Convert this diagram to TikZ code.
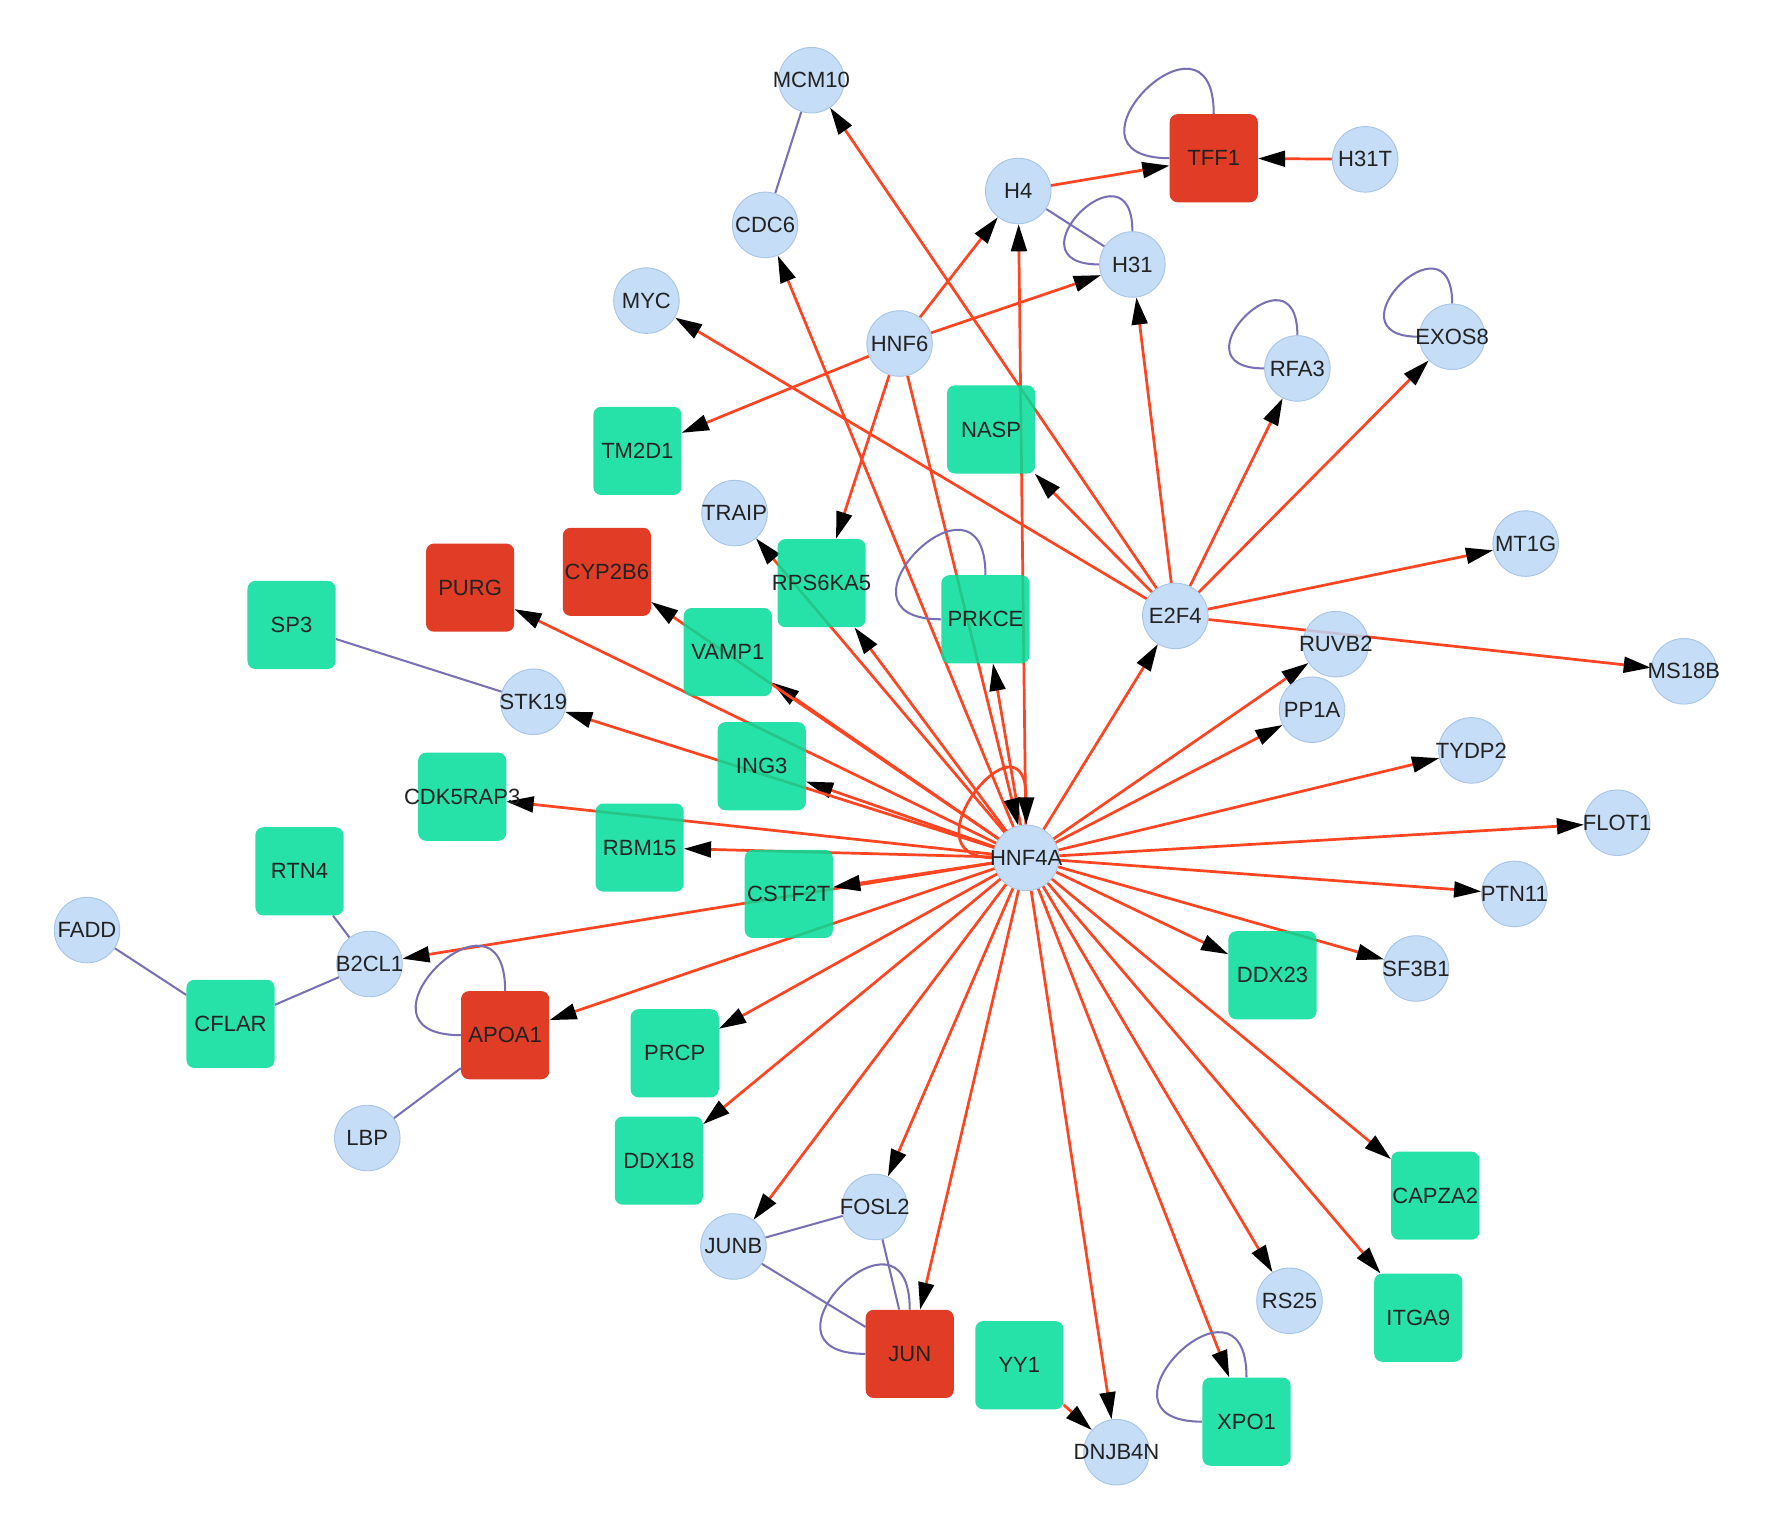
\documentclass[tikz,border=0pt]{standalone}
\usepackage{fontspec}
\setmainfont{Liberation Sans}
\usetikzlibrary{arrows.meta,backgrounds}
\definecolor{protblue}{HTML}{BCD8F6}
\definecolor{protline}{HTML}{A8C4E6}
\definecolor{genegreen}{HTML}{00DD9B}
\definecolor{hubred}{HTML}{DB1A00}
\definecolor{actred}{HTML}{FF4422}
\definecolor{interpurple}{HTML}{7870B4}
\definecolor{txtgray}{HTML}{222222}

\begin{document}
\begin{tikzpicture}[x=1pt,y=-1pt,
  every node/.style={font=\fontsize{19.5}{22}\selectfont, text=txtgray},
  prot/.style={circle, fill=protblue, draw=protline, line width=0.8pt, minimum size=58pt, inner sep=0pt, fill opacity=0.85},
  gene/.style={rectangle, rounded corners=7pt, fill=genegreen, minimum size=78pt, inner sep=0pt, fill opacity=0.85},
  hub/.style={gene, fill=hubred},
  act/.style={draw=actred, line width=2.4pt, -{Triangle[length=24pt,width=14pt,color=black]}},
  inter/.style={draw=interpurple, line width=1.8pt}]
\useasboundingbox (0,0) rectangle (1568,1351);

% proteins
\node[prot, label=center:MCM10] (MCM10) at (718,71) {};
\node[prot, label=center:CDC6] (CDC6) at (677,199) {};
\node[prot, label=center:MYC] (MYC) at (572,266) {};
\node[prot, label=center:H4] (H4) at (901,169) {};
\node[prot, label=center:H31T] (H31T) at (1208,141) {};
\node[prot, label=center:H31] (H31) at (1002,234) {};
\node[prot, label=center:HNF6] (HNF6) at (796,304) {};
\node[prot, label=center:RFA3] (RFA3) at (1148,326) {};
\node[prot, label=center:EXOS8] (EXOS8) at (1285,298) {};
\node[prot, label=center:TRAIP] (TRAIP) at (650,454) {};
\node[prot, label=center:MT1G] (MT1G) at (1350,481) {};
\node[prot, label=center:E2F4] (E2F4) at (1040,545) {};
\node[prot, label=center:RUVB2] (RUVB2) at (1182,570) {};
\node[prot, label=center:MS18B] (MS18B) at (1490,594) {};
\node[prot, label=center:STK19] (STK19) at (472,621) {};
\node[prot, label=center:PP1A] (PP1A) at (1161,628) {};
\node[prot, label=center:TYDP2] (TYDP2) at (1302,664) {};
\node[prot, label=center:HNF4A] (HNF4A) at (908,759) {};
\node[prot, label=center:FLOT1] (FLOT1) at (1431,728) {};
\node[prot, label=center:PTN11] (PTN11) at (1340,791) {};
\node[prot, label=center:FADD] (FADD) at (77,823) {};
\node[prot, label=center:B2CL1] (B2CL1) at (327,853) {};
\node[prot, label=center:SF3B1] (SF3B1) at (1253,857) {};
\node[prot, label=center:LBP] (LBP) at (325,1007) {};
\node[prot, label=center:FOSL2] (FOSL2) at (774,1068) {};
\node[prot, label=center:JUNB] (JUNB) at (649,1103) {};
\node[prot, label=center:RS25] (RS25) at (1141,1151) {};
\node[prot, label=center:DNJB4N] (DNJB4N) at (988,1285) {};

% genes
\node[gene, label=center:TM2D1] (TM2D1) at (564,399) {};
\node[gene, label=center:NASP] (NASP) at (877,380) {};
\node[gene, label=center:RPS6KA5] (RPS6KA5) at (727,516) {};
\node[gene, label=center:PRKCE] (PRKCE) at (872,548) {};
\node[gene, label=center:SP3] (SP3) at (258,553) {};
\node[gene, label=center:VAMP1] (VAMP1) at (644,577) {};
\node[gene, label=center:ING3] (ING3) at (674,678) {};
\node[gene, label=center:CDK5RAP3] (CDK5RAP3) at (409,705) {};
\node[gene, label=center:RBM15] (RBM15) at (566,750) {};
\node[gene, label=center:RTN4] (RTN4) at (265,771) {};
\node[gene, label=center:CSTF2T] (CSTF2T) at (698,791) {};
\node[gene, label=center:DDX23] (DDX23) at (1126,863) {};
\node[gene, label=center:CFLAR] (CFLAR) at (204,906) {};
\node[gene, label=center:PRCP] (PRCP) at (597,932) {};
\node[gene, label=center:DDX18] (DDX18) at (583,1027) {};
\node[gene, label=center:CAPZA2] (CAPZA2) at (1270,1058) {};
\node[gene, label=center:ITGA9] (ITGA9) at (1255,1166) {};
\node[gene, label=center:YY1] (YY1) at (902,1208) {};
\node[gene, label=center:XPO1] (XPO1) at (1103,1258) {};

% hub genes
\node[hub, label=center:TFF1] (TFF1) at (1074,140) {};
\node[hub, label=center:CYP2B6] (CYP2B6) at (537,506) {};
\node[hub, label=center:PURG] (PURG) at (416,520) {};
\node[hub, label=center:APOA1] (APOA1) at (447,916) {};
\node[hub, label=center:JUN] (JUN) at (805,1198) {};

\begin{scope}[on background layer]
\fill[white] (0,0) rectangle (1568,1351);
% regulation
\foreach \t in {E2F4,RUVB2,PP1A,TYDP2,FLOT1,PTN11,SF3B1,DDX23,CAPZA2,ITGA9,RS25,XPO1,DNJB4N,JUN,FOSL2,JUNB,DDX18,PRCP,APOA1,B2CL1,CSTF2T,RBM15,CDK5RAP3,ING3,STK19,VAMP1,PURG,CYP2B6,RPS6KA5,TRAIP,CDC6,PRKCE,H4}
  \draw[act] (HNF4A) -- (\t);
\foreach \t in {HNF4A,H4,H31,TM2D1,RPS6KA5}
  \draw[act] (HNF6) -- (\t);
\foreach \t in {MCM10,MYC,NASP,H31,RFA3,EXOS8,MT1G,MS18B}
  \draw[act] (E2F4) -- (\t);
\draw[act] (H4) -- (TFF1);
\draw[act] (H31T) -- (TFF1);
\draw[act] (YY1) -- (DNJB4N);
\draw[act] (HNF4A.west) .. controls +(-82,0) and +(0,-108) .. (HNF4A.north);

% interactions
\draw[inter] (MCM10) -- (CDC6);
\draw[inter] (H4) -- (H31);
\draw[inter] (SP3) -- (STK19);
\draw[inter] (RTN4) -- (B2CL1);
\draw[inter] (FADD) -- (CFLAR);
\draw[inter] (CFLAR) -- (B2CL1);
\draw[inter] (APOA1) -- (LBP);
\draw[inter] (JUNB) -- (FOSL2);
\draw[inter] (JUNB) -- (JUN);
\draw[inter] (FOSL2) -- (JUN);
\foreach \n in {TFF1,PRKCE,APOA1,JUN,XPO1}
  \draw[inter] (\n.west) .. controls +(-109,0) and +(0,-109) .. (\n.north);
\foreach \n in {H31,RFA3,EXOS8}
  \draw[inter] (\n.west) .. controls +(-84,0) and +(0,-84) .. (\n.north);
\end{scope}
\end{tikzpicture}
\end{document}
